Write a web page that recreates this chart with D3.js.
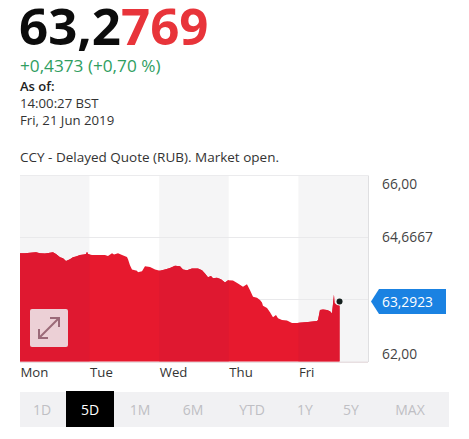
<!DOCTYPE html>
<html><head><meta charset="utf-8">
<script src="https://cdn.jsdelivr.net/npm/d3@7"></script>
<style>
html,body{margin:0;padding:0;background:#fff;overflow:hidden}
svg{display:block}
text{font-family:"Open Sans",sans-serif}
.domain{display:none}
.tick line{display:none}
</style></head><body><div id="c"></div>
<script>
const dayLabels = ["Mon","Tue","Wed","Thu","Fri"];
const yTicks = [62, 63.3333, 64.6667, 66];
const yTickLabels = ["62,00","","64,6667","66,00"];
const times = [0,.072,.144,.23,.287,.359,.431,.474,.517,.575,.618,.661,.718,.761,.805,.862,.92,.948,.963,.977,
1.034,1.149,1.221,1.264,1.322,1.351,1.408,1.466,1.537,1.552,1.58,1.609,1.681,1.695,1.753,1.796,1.868,1.94,
2.011,2.083,2.155,2.227,2.299,2.342,2.399,2.471,2.557,2.615,2.658,2.701,2.744,2.773,2.83,2.888,2.945,2.989,
3.06,3.132,3.204,3.261,3.305,3.348,3.405,3.448,3.477,3.491,3.549,3.592,3.635,3.678,3.707,3.764,3.836,3.908,3.98,
4.052,4.138,4.267,4.282,4.31,4.353,4.411,4.454,4.483,4.511,4.519,4.555,4.591];
const rates = [64.33,64.33,64.34,64.35,64.33,64.32,64.34,64.35,64.31,64.24,64.22,64.16,64.20,64.24,64.26,64.29,64.30,64.31,64.36,64.31,
64.29,64.29,64.29,64.27,64.33,64.30,64.33,64.29,64.25,64.20,64.07,63.98,63.95,63.92,63.94,64.05,64.03,63.98,
63.95,63.98,64.01,64.06,64.05,63.98,63.96,64.00,64.00,63.96,63.89,63.81,63.84,63.79,63.80,63.77,63.70,63.75,
63.74,63.68,63.61,63.66,63.53,63.39,63.37,63.32,63.27,63.20,63.15,63.06,62.95,63.00,62.93,62.89,62.88,62.83,62.83,
62.84,62.85,62.87,62.89,63.11,63.12,63.11,63.08,63.03,63.44,63.26,63.21,63.20];
const lastTick = 63.2923;
const lastTickLabel = "63,2923";
const ranges = ["1D","5D","1M","6M","YTD","1Y","5Y","MAX"];
const rangeCentres = [42,90,140,193,252,305,351,410];
const activeRange = "5D";

const W = 469, H = 439;
const svg = d3.select("#c").append("svg").attr("width",W).attr("height",H);
const x = d3.scaleLinear().domain([0,5]).range([20,368]);
const y = d3.scaleLinear().domain([62,66]).range([361.5,175.5]);

// header
const big = svg.append("text").attr("x",19).attr("y",44.5).attr("font-size",51).attr("font-weight",700);
big.append("tspan").attr("fill","#0c0c0c").text("63,2");
big.append("tspan").attr("fill","#e8343a").text("769");
svg.append("text").attr("x",20).attr("y",72).attr("font-size",17.2).attr("fill","#2f9e5f").text("+0,4373 (+0,70 %)");
svg.append("text").attr("x",20).attr("y",90.5).attr("font-size",13).attr("font-weight",600).attr("fill","#222").text("As of:");
svg.append("text").attr("x",20).attr("y",107.5).attr("font-size",13.2).attr("fill","#333").text("14:00:27 BST");
svg.append("text").attr("x",20).attr("y",124.5).attr("font-size",13.2).attr("fill","#333").text("Fri, 21 Jun 2019");
svg.append("text").attr("x",20).attr("y",161.5).attr("font-size",13.5).attr("fill","#333").text("CCY - Delayed Quote (RUB). Market open.");

// day bands
const days = d3.range(5);
svg.append("g").selectAll("rect").data(days).join("rect")
  .attr("x",d=>x(d)).attr("width",d=>x(d+1)-x(d))
  .attr("y",y(66)).attr("height",y(62)-y(66)+0.5)
  .attr("fill",d=>d%2===0?"#f5f5f6":"#ffffff");

// grid
svg.append("g").selectAll("line").data(yTicks.slice(1,3)).join("line")
  .attr("x1",x(0)).attr("x2",x(5)).attr("y1",d=>y(d)).attr("y2",d=>y(d))
  .attr("stroke","#e9e9eb").attr("stroke-width",1);

// frame
svg.append("rect").attr("x",x(5)).attr("y",y(66)).attr("width",1).attr("height",y(62)-y(66)+0.5).attr("fill","#dfdfe1");
svg.append("rect").attr("x",x(0)).attr("y",y(66)-0.5).attr("width",x(5)-x(0)).attr("height",1).attr("fill","#ebebed");
svg.append("rect").attr("x",x(0)).attr("y",y(62)).attr("width",x(5)-x(0)).attr("height",1.5).attr("fill","#e8dfe1");

// area: one base shape, with the grey-band days tinted on top
const series = times.map((t,i)=>({t,v:rates[i]}));
const area = d3.area().x(d=>x(d.t)).y0(y(62)).y1(d=>y(d.v));
svg.append("path").datum(series).attr("d",area).attr("fill","#e7192e");
const defs = svg.append("defs");
days.filter(d=>d%2===0).forEach(d=>{
  defs.append("clipPath").attr("id","day"+d).append("rect")
    .attr("x",x(d)).attr("width",x(d+1)-x(d)).attr("y",y(66)).attr("height",y(62)-y(66));
  svg.append("path").datum(series).attr("d",area).attr("clip-path",`url(#day${d})`)
    .attr("fill","#df1830");
});

// expand button
const g = svg.append("g").attr("transform","translate(30,309)");
g.append("rect").attr("width",38).attr("height",38).attr("rx",2).attr("fill","#ecd0d6");
g.append("path").attr("d","M9 29 L29 9 M20 9 H29 V18 M9 20 V29 H18").attr("fill","none")
  .attr("stroke","#9b6a79").attr("stroke-width",2);

// last dot
svg.append("circle").attr("cx",x(times[times.length-1])).attr("cy",y(lastTick)).attr("r",3).attr("fill","#15201e");

// axes
const xAxis = d3.axisBottom(x).tickValues(days).tickSize(0).tickPadding(0).tickFormat(d=>dayLabels[d]);
const xg = svg.append("g").attr("transform","translate(0,367.5)").call(xAxis);
xg.selectAll("text").attr("text-anchor","start").attr("font-size",13.2).attr("fill","#333").attr("font-family",'"Open Sans",sans-serif');

const yAxis = d3.axisRight(y).tickValues(yTicks).tickSize(0).tickPadding(0).tickFormat((d,i)=>yTickLabels[i]);
const yg = svg.append("g").attr("transform","translate(382,0)").call(yAxis);
yg.selectAll("text").attr("font-size",13.8).attr("fill","#444").attr("font-family",'"Open Sans",sans-serif')
  .attr("dy",(d)=>d===66?"0.93em":d===62?"-0.2em":"0.32em");

// last price tag
const ly = y(lastTick);
svg.append("path").attr("d",`M371 ${ly} L379 ${ly-12.5} H446 V${ly+12.5} H379 Z`).attr("fill","#1a82e2");
svg.append("text").attr("x",382).attr("y",ly+5.5).attr("font-size",13.8).attr("fill","#fff").text(lastTickLabel);

// range selector
svg.append("rect").attr("x",20).attr("y",392).attr("width",429).attr("height",35).attr("fill","#f1f1f3");
const pick = d3.scaleOrdinal(ranges,rangeCentres);
svg.append("rect").attr("x",pick(activeRange)-24).attr("y",391).attr("width",48).attr("height",36).attr("fill","#000");
svg.append("g").selectAll("text").data(ranges).join("text")
  .attr("x",d=>pick(d)).attr("y",415).attr("text-anchor","middle").attr("font-size",14)
  .attr("fill",d=>d===activeRange?"#fff":"#bfbfc4").text(d=>d);
</script></body></html>
